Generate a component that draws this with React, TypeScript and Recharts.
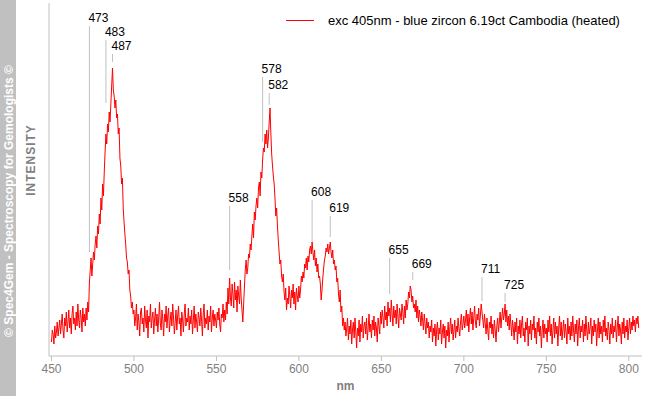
import React from "react";
import { LineChart, Line, XAxis, YAxis, ReferenceLine } from "recharts";

const START_NM = 450;
const STEP_NM = 0.5;

const intensity450 = [
  6, 18, 14, 4, 22, 10, 16, 26, 12, 20,
  28, 14, 24, 34, 18, 10, 30, 22, 36, 16,
  26, 38, 20, 30, 14, 34, 42, 24, 30, 18,
  36, 22, 44, 28, 20, 38, 30, 16, 40, 26,
  34, 22, 40, 28, 46, 36, 66, 78, 90, 72,
  84, 96, 88, 104, 112, 100, 122, 114, 134, 124,
  150, 138, 164, 152, 176, 196, 214, 204, 224, 216,
  236, 226, 244, 262, 280, 258, 252, 240, 248, 230,
  234, 214, 220, 190, 182, 164, 170, 140, 126, 114,
  104, 90, 86, 74, 78, 58, 52, 40, 46, 34,
];
const intensity500 = [
  38, 22, 30, 44, 18, 34, 26, 12, 36, 40,
  24, 30, 16, 42, 28, 20, 38, 10, 32, 26,
  44, 20, 30, 36, 14, 28, 40, 22, 34, 16,
  30, 46, 24, 18, 38, 28, 12, 34, 26, 42,
  20, 32, 40, 16, 28, 36, 22, 44, 30, 14,
  26, 38, 18, 32, 42, 24, 30, 12, 36, 28,
  16, 34, 44, 22, 30, 26, 40, 18, 32, 24,
  38, 14, 28, 42, 20, 34, 26, 16, 36, 30,
  22, 40, 28, 12, 34, 44, 20, 30, 24, 38,
  18, 32, 26, 42, 16, 30, 38, 22, 34, 28,
];
const intensity550 = [
  20, 36, 28, 40, 24, 16, 34, 30, 44, 26,
  38, 28, 46, 34, 60, 44, 70, 50, 42, 64,
  54, 40, 66, 48, 58, 36, 62, 52, 44, 68,
  50, 38, 26, 44, 62, 78, 88, 74, 80, 94,
  90, 104, 98, 112, 124, 110, 136, 128, 142, 150,
  140, 160, 166, 152, 176, 170, 188, 200, 196, 214,
  204, 218, 200, 210, 226, 240, 214, 194, 182, 172,
  164, 150, 132, 140, 122, 108, 96, 84, 88, 72,
  66, 74, 56, 48, 60, 38, 50, 44, 62, 52,
  40, 58, 50, 64, 44, 56, 38, 60, 52, 46,
];
const intensity600 = [
  62, 50, 58, 72, 66, 76, 70, 84, 80, 90,
  78, 92, 86, 98, 102, 94, 106, 96, 88, 98,
  82, 90, 76, 84, 70, 72, 64, 48, 58, 70,
  80, 88, 92, 100, 96, 104, 94, 100, 106, 96,
  90, 98, 84, 88, 78, 82, 66, 70, 54, 46,
  58, 36, 42, 22, 30, 18, 26, 12, 20, 30,
  8, 22, 14, 28, 4, 18, 26, 10, 30, 16,
  0, 20, 12, 28, 6, 24, 16, 32, 10, 22,
  26, 14, 30, 8, 20, 34, 16, 24, 10, 28,
  18, 32, 12, 26, 20, 6, 30, 22, 14, 36,
];
const intensity650 = [
  24, 38, 30, 20, 42, 28, 36, 22, 46, 32,
  40, 26, 48, 34, 22, 42, 30, 38, 24, 44,
  32, 20, 40, 34, 28, 44, 36, 24, 42, 30,
  48, 38, 44, 56, 50, 62, 58, 46, 52, 40,
  44, 36, 48, 30, 42, 26, 38, 32, 22, 36,
  28, 18, 34, 24, 14, 30, 20, 26, 10, 22,
  16, 28, 6, 20, 12, 24, 2, 18, 26, 8,
  20, 14, 28, 4, 16, 24, 10, 22, 0, 18,
  12, 26, 6, 20, 30, 14, 24, 8, 18, 28,
  10, 22, 16, 30, 20, 12, 26, 34, 18, 24,
];
const intensity700 = [
  32, 20, 28, 38, 22, 34, 16, 30, 40, 24,
  36, 18, 30, 42, 26, 20, 34, 28, 40, 22,
  32, 44, 36, 28, 20, 34, 24, 14, 30, 18,
  8, 26, 20, 32, 14, 24, 10, 28, 18, 6,
  22, 30, 16, 26, 36, 20, 30, 40, 28, 34,
  44, 26, 38, 22, 32, 18, 34, 24, 12, 28,
  20, 8, 26, 16, 30, 4, 22, 14, 28, 10,
  24, 32, 12, 20, 6, 26, 18, 30, 2, 22,
  14, 28, 8, 24, 18, 32, 10, 20, 4, 26,
  16, 30, 12, 22, 0, 18, 28, 10, 24, 14,
];
const intensity750 = [
  20, 6, 28, 16, 32, 12, 24, 4, 18, 30,
  10, 26, 14, 22, 2, 20, 32, 12, 26, 8,
  18, 28, 10, 24, 16, 4, 30, 14, 22, 8,
  26, 12, 32, 18, 6, 24, 14, 28, 2, 20,
  30, 10, 22, 16, 28, 6, 24, 12, 32, 18,
  8, 26, 14, 20, 30, 4, 22, 12, 28, 16,
  24, 2, 18, 30, 10, 26, 14, 22, 6, 28,
  16, 32, 12, 20, 8, 26, 18, 4, 24, 14,
  30, 10, 22, 16, 28, 6, 20, 32, 12, 24,
  18, 4, 26, 14, 30, 10, 22, 16, 28, 8,
];
const intensity800 = [20, 30, 14, 26, 18, 32, 22, 28, 16, 30, 24, 32, 20];

const INTENSITY = [
  ...intensity450,
  ...intensity500,
  ...intensity550,
  ...intensity600,
  ...intensity650,
  ...intensity700,
  ...intensity750,
  ...intensity800,
];

const spectrum = INTENSITY.map((v, i) => ({ nm: START_NM + i * STEP_NM, v }));

const X_TICKS = [450, 500, 550, 600, 650, 700, 750, 800];
const Y_TICKS = [0, 100, 200, 300];

// marked peaks: wavelength, top of the marker line, bottom of the marker line
const PEAK_NM = [473, 483, 487, 558, 578, 582, 608, 619, 655, 669, 711, 725];
const PEAK_TOP = [322, 308, 294, 142, 271, 255, 148, 132, 90, 76, 71, 55];
const PEAK_BOTTOM = [96, 245, 286, 78, 206, 243, 106, 111, 54, 68, 47, 46];

const LEGEND_TEXT = "exc 405nm - blue zircon 6.19ct Cambodia (heated)";

const FONT = '"Liberation Sans", Arial, sans-serif';
const FRAME = "#c0c0c0";
const GREY_TEXT = "#808080";

const PeakLabel = ({ viewBox, text }: any) => (
  <text x={viewBox.x - 1} y={viewBox.y - 4} fontSize={12} fontFamily={FONT} fill="#000">
    {text}
  </text>
);

export default function App() {
  return (
    <div style={{ position: "absolute", left: 0, top: 0, width: 645, height: 396, background: "#fff" }}>
      <LineChart width={645} height={396} data={spectrum} margin={{ top: 3, right: 3, left: 0, bottom: 0 }}>
        <XAxis
          dataKey="nm"
          type="number"
          domain={[448.5, 808]}
          ticks={X_TICKS}
          allowDataOverflow
          height={40}
          stroke={FRAME}
          tickSize={5}
          tickMargin={3}
          tick={{ fill: GREY_TEXT, fontSize: 12, fontFamily: FONT }}
          label={{ value: "nm", position: "insideBottom", offset: 6, fill: GREY_TEXT, fontSize: 12, fontWeight: "bold", fontFamily: FONT }}
        />
        <XAxis xAxisId="top" orientation="top" dataKey="nm" type="number" domain={[448.5, 808]} height={0} tick={false} tickLine={false} stroke={FRAME} />
        <YAxis
          type="number"
          domain={[-8, 345]}
          ticks={Y_TICKS}
          width={49}
          tick={false}
          tickSize={7}
          stroke={FRAME}
        />
        <YAxis yAxisId="right" orientation="right" type="number" domain={[-8, 345]} width={0} tick={false} tickLine={false} stroke={FRAME} />
        {PEAK_NM.map((nm, i) => (
          <ReferenceLine
            key={nm}
            segment={[
              { x: nm, y: PEAK_TOP[i] },
              { x: nm, y: PEAK_BOTTOM[i] },
            ]}
            stroke={FRAME}
            label={<PeakLabel text={String(nm)} />}
          />
        ))}
        <Line type="linear" dataKey="v" stroke="#ff0000" strokeWidth={1} dot={false} isAnimationActive={false} />
      </LineChart>

      {/* copyright side bar */}
      <div style={{ position: "absolute", left: 0, top: 0, width: 16, height: 396, background: "#c0c0c0" }} />
      <svg width={645} height={396} style={{ position: "absolute", left: 0, top: 0, pointerEvents: "none" }}>
        <text
          transform="translate(12.5 201) rotate(-90)"
          textAnchor="middle"
          fontSize={12}
          fontWeight="bold"
          fontFamily={FONT}
          fill="#fff"
        >
          © Spec4Gem - Spectroscopy for Gemologists ©
        </text>
        <text
          transform="translate(35 160) rotate(-90)"
          textAnchor="middle"
          fontSize={12}
          fontWeight="bold"
          fontFamily={FONT}
          fill={GREY_TEXT}
          letterSpacing={1}
        >
          INTENSITY
        </text>
        <line x1={286} x2={314} y1={20.5} y2={20.5} stroke="#ff0000" strokeWidth={1} />
        <text x={328} y={25} fontSize={13} fontFamily={FONT} fill="#000">
          {LEGEND_TEXT}
        </text>
      </svg>
    </div>
  );
}
